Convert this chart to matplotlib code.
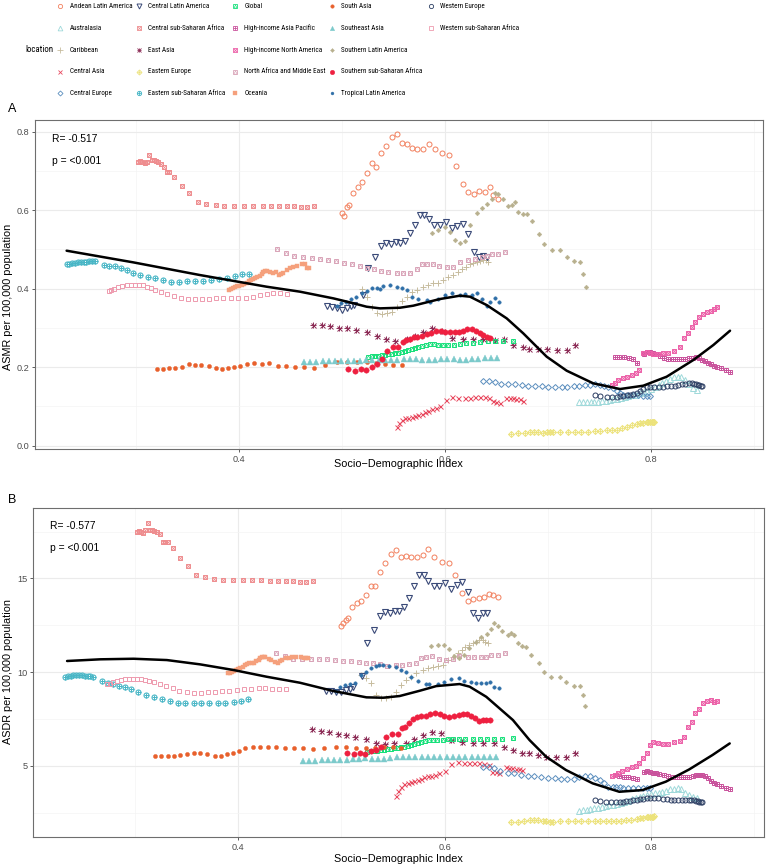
import os
import matplotlib
matplotlib.use("Agg")
import matplotlib.pyplot as plt
from matplotlib import font_manager
from matplotlib.font_manager import FontProperties

# ---------------- data (SDI, ASMR, ASDR per region) ----------------
locations = ["Andean Latin America", "Australasia", "Caribbean", "Central Asia", "Central Europe",
             "Central Latin America", "Central sub-Saharan Africa", "East Asia", "Eastern Europe",
             "Eastern sub-Saharan Africa", "Global", "High-income Asia Pacific", "High-income North America",
             "North Africa and Middle East", "Oceania", "South Asia", "Southeast Asia",
             "Southern Latin America", "Southern sub-Saharan Africa", "Tropical Latin America",
             "Western Europe", "Western sub-Saharan Africa"]

sdi_ala = [0.4994,0.5017,0.5043,0.5065,0.5101,0.515,0.5194,0.5237,0.5285,0.5327,0.5376,0.5424,0.548,0.5528,0.5577,0.5625,0.5674,0.5728,0.5787,0.5842,0.59,0.5971,0.6039,0.6104,0.6169,0.6224,0.6279,0.633,0.6385,0.6434,0.6466,0.6515]
asmr_ala = [0.5921,0.586,0.6074,0.6133,0.643,0.66,0.6727,0.694,0.7195,0.711,0.7466,0.7644,0.7857,0.7934,0.772,0.7687,0.7577,0.7559,0.7559,0.7687,0.7559,0.745,0.7406,0.7134,0.6668,0.6456,0.6405,0.6489,0.6472,0.66,0.6386,0.6285]
asdr_ala = [12.47,12.6,12.78,12.86,13.49,13.7,13.81,14.11,14.59,14.59,15.36,15.8,16.3,16.51,16.16,16.19,16.12,16.12,16.25,16.55,16.16,15.89,15.8,15.18,14.23,13.81,13.88,13.93,14.02,14.16,14.11,14.02]

sdi_aus = [0.7301,0.7338,0.7375,0.7411,0.7448,0.7485,0.7521,0.7558,0.7595,0.7631,0.7668,0.7705,0.7741,0.7778,0.7815,0.7851,0.7888,0.7925,0.7961,0.7998,0.8035,0.8071,0.8108,0.8145,0.8181,0.8218,0.8255,0.8291,0.8328,0.8365,0.8401,0.8439]
asmr_aus = [0.112,0.112,0.112,0.112,0.112,0.112,0.113,0.114,0.116,0.118,0.12,0.122,0.124,0.126,0.128,0.13,0.133,0.137,0.14,0.145,0.15,0.155,0.16,0.165,0.17,0.174,0.176,0.175,0.168,0.158,0.148,0.142]
asdr_aus = [2.6,2.62,2.64,2.68,2.72,2.76,2.8,2.84,2.88,2.93,2.98,3.03,3.08,3.13,3.2,3.28,3.35,3.4,3.45,3.5,3.52,3.55,3.6,3.66,3.74,3.78,3.79,3.74,3.55,3.45,3.35,3.26]

sdi_car = [0.5188,0.5237,0.5285,0.5334,0.5383,0.5431,0.548,0.5528,0.5577,0.5625,0.5674,0.5722,0.5787,0.5835,0.5884,0.5932,0.5981,0.6029,0.6078,0.6126,0.6165,0.62,0.624,0.6272,0.6305,0.6337,0.6369,0.6395,0.6417]
asmr_car = [0.3985,0.3797,0.3542,0.3373,0.3356,0.3373,0.3414,0.3542,0.3694,0.3797,0.3924,0.3967,0.4051,0.4094,0.4136,0.4153,0.4221,0.4306,0.4349,0.4433,0.45,0.456,0.462,0.465,0.468,0.47,0.473,0.472,0.467]
asdr_car = [9.84,9.67,9.4,8.77,8.6,8.6,8.69,8.95,9.31,9.55,9.75,9.97,10.11,10.2,10.29,10.32,10.38,10.64,10.79,11.0,11.18,11.35,11.44,11.55,11.62,11.7,11.7,11.62,11.53]

sdi_cas = [0.5528,0.5551,0.5577,0.5609,0.5641,0.5673,0.5706,0.5738,0.577,0.5803,0.5835,0.5867,0.5909,0.5948,0.6006,0.6061,0.6126,0.6191,0.624,0.6288,0.6337,0.6386,0.6427,0.6462,0.6495,0.6527,0.6592,0.6625,0.6657,0.669,0.6722,0.6754]
asmr_cas = [0.0484,0.0586,0.0654,0.0697,0.0718,0.0739,0.076,0.0782,0.0805,0.0866,0.0895,0.0926,0.0968,0.1011,0.1164,0.1232,0.1224,0.1224,0.1224,0.125,0.125,0.1232,0.1206,0.114,0.112,0.11,0.122,0.122,0.121,0.12,0.118,0.1146]
asdr_cas = [3.38,3.67,3.85,4.0,4.06,4.15,4.2,4.24,4.3,4.38,4.45,4.45,4.5,4.63,4.73,5.07,5.2,5.13,5.13,5.13,5.13,5.1,5.04,4.68,4.65,4.59,4.91,4.9,4.88,4.85,4.8,4.77]

sdi_ceu = [0.6369,0.6427,0.6482,0.6537,0.6612,0.6676,0.6741,0.6806,0.687,0.6935,0.7,0.7065,0.7129,0.7184,0.7249,0.7301,0.7356,0.7404,0.7453,0.7502,0.754,0.7583,0.7631,0.7663,0.7696,0.7728,0.7777,0.7825,0.7874,0.7922,0.7955,0.7987]
asmr_ceu = [0.1648,0.1656,0.1631,0.157,0.1563,0.1563,0.1546,0.1529,0.1529,0.1521,0.1503,0.1503,0.1503,0.1503,0.1521,0.1529,0.1546,0.1546,0.1563,0.1546,0.1521,0.1503,0.1461,0.1401,0.1333,0.13,0.129,0.128,0.128,0.127,0.126,0.126]
asdr_ceu = [4.95,4.91,4.86,4.73,4.63,4.59,4.5,4.45,4.45,4.41,4.36,4.33,4.29,4.29,4.29,4.41,4.45,4.45,4.36,4.24,4.06,3.88,3.84,3.84,3.84,3.82,3.8,3.79,3.79,3.79,3.79,3.79]

sdi_cla = [0.4848,0.4897,0.4946,0.4994,0.5043,0.5082,0.5115,0.5204,0.5245,0.5318,0.5373,0.5424,0.547,0.5518,0.556,0.5609,0.5657,0.5706,0.5754,0.5796,0.5842,0.5893,0.5949,0.6004,0.6062,0.6117,0.6169,0.6224,0.6279,0.6327,0.6369,0.6408]
asmr_cla = [0.3567,0.3541,0.3499,0.3456,0.3499,0.355,0.3584,0.3839,0.454,0.4816,0.5088,0.5172,0.5131,0.5182,0.5157,0.5223,0.5411,0.5623,0.5878,0.5878,0.5768,0.5623,0.5623,0.5691,0.5539,0.5597,0.5648,0.5394,0.4943,0.4815,0.484,0.4815]
asdr_cla = [9.0,8.98,8.95,8.95,9.04,9.1,9.22,9.79,11.53,12.24,12.99,13.22,13.17,13.28,13.25,13.46,13.94,14.59,15.18,15.18,14.88,14.59,14.59,14.77,14.42,14.65,14.82,14.29,13.14,12.87,13.14,13.14]

sdi_cssa = [0.302,0.304,0.306,0.308,0.31,0.3126,0.315,0.317,0.319,0.3214,0.324,0.327,0.3295,0.332,0.337,0.344,0.3515,0.3595,0.368,0.377,0.3854,0.3948,0.4045,0.4136,0.4227,0.4307,0.4388,0.4466,0.4534,0.4602,0.466,0.4725]
asmr_cssa = [0.724,0.725,0.722,0.72,0.724,0.741,0.728,0.727,0.726,0.722,0.718,0.711,0.698,0.698,0.685,0.662,0.643,0.622,0.617,0.612,0.611,0.611,0.61,0.611,0.611,0.611,0.611,0.611,0.611,0.609,0.609,0.611]
asdr_cssa = [17.5,17.55,17.45,17.4,17.6,17.97,17.6,17.6,17.55,17.5,17.35,16.96,16.96,16.96,16.64,16.1,15.66,15.18,15.09,14.98,14.93,14.91,14.89,14.89,14.89,14.88,14.88,14.88,14.88,14.82,14.8,14.88]

sdi_eas = [0.4712,0.48,0.488,0.4968,0.5049,0.5133,0.5236,0.5333,0.5424,0.5511,0.5625,0.5705,0.5786,0.5874,0.5965,0.6061,0.6168,0.6272,0.6369,0.6482,0.6573,0.666,0.6751,0.6816,0.69,0.6984,0.7081,0.7178,0.7259]
asmr_eas = [0.3074,0.3074,0.305,0.3006,0.299,0.295,0.2905,0.2794,0.271,0.266,0.271,0.28,0.2905,0.299,0.293,0.2735,0.271,0.271,0.271,0.2692,0.271,0.2565,0.2505,0.247,0.246,0.246,0.245,0.2437,0.2565]
asdr_eas = [6.94,6.87,6.78,6.67,6.62,6.51,6.41,6.23,6.14,6.2,6.2,6.4,6.62,6.78,6.73,6.37,6.28,6.23,6.19,6.19,6.01,5.84,5.69,5.66,5.55,5.48,5.44,5.44,5.69]

sdi_eeu = [0.6638,0.6709,0.6773,0.6822,0.6861,0.6903,0.6951,0.6984,0.7016,0.7049,0.7113,0.7194,0.7259,0.7317,0.7388,0.7453,0.7502,0.7566,0.7615,0.7663,0.7712,0.776,0.7809,0.7858,0.789,0.7922,0.7955,0.7971,0.7987,0.8003,0.8013,0.8026]
asmr_eeu = [0.0289,0.0314,0.0331,0.0357,0.0348,0.034,0.0331,0.034,0.0348,0.0348,0.0357,0.0357,0.0357,0.0357,0.0357,0.0374,0.0374,0.0391,0.0399,0.0399,0.0442,0.0484,0.0527,0.0552,0.0569,0.0586,0.0595,0.0603,0.0603,0.0611,0.0611,0.0611]
asdr_eeu = [1.98,2.01,2.05,2.1,2.12,2.08,2.04,2.03,2.02,2.02,2.03,2.03,2.05,2.05,2.05,2.05,2.05,2.05,2.05,2.05,2.06,2.08,2.12,2.17,2.2,2.22,2.24,2.24,2.25,2.26,2.28,2.3]

sdi_essa = [0.2324,0.2351,0.2379,0.2406,0.2434,0.2461,0.2489,0.2516,0.2544,0.2571,0.2599,0.2686,0.2738,0.2793,0.2848,0.2906,0.2964,0.3036,0.311,0.3184,0.3262,0.334,0.3417,0.3489,0.357,0.3644,0.3722,0.3803,0.3877,0.3961,0.4029,0.4097]
asmr_essa = [0.462,0.463,0.465,0.466,0.467,0.468,0.469,0.469,0.47,0.47,0.471,0.46,0.459,0.458,0.4535,0.4475,0.441,0.435,0.4306,0.426,0.422,0.418,0.418,0.419,0.42,0.42,0.422,0.4246,0.428,0.432,0.4365,0.4365]
asdr_essa = [9.75,9.78,9.8,9.82,9.82,9.83,9.83,9.8,9.78,9.78,9.75,9.5,9.4,9.34,9.27,9.2,9.07,8.93,8.8,8.68,8.56,8.45,8.36,8.33,8.33,8.33,8.33,8.33,8.33,8.38,8.47,8.56]

sdi_glo = [0.5253,0.5285,0.5317,0.535,0.5382,0.5414,0.5447,0.5479,0.5511,0.5544,0.5576,0.5608,0.5641,0.5673,0.5705,0.5738,0.577,0.581,0.585,0.589,0.593,0.598,0.603,0.608,0.614,0.62,0.627,0.634,0.641,0.648,0.656,0.666]
asmr_glo = [0.227,0.228,0.229,0.2295,0.2305,0.231,0.2325,0.234,0.235,0.236,0.238,0.2405,0.2435,0.247,0.2495,0.252,0.2545,0.257,0.258,0.258,0.2565,0.2555,0.2555,0.2575,0.2595,0.2615,0.2625,0.264,0.2655,0.266,0.267,0.2675]
asdr_glo = [5.75,5.77,5.79,5.8,5.82,5.84,5.87,5.9,5.93,5.95,5.98,6.01,6.06,6.12,6.18,6.22,6.28,6.32,6.36,6.37,6.38,6.38,6.4,6.42,6.44,6.45,6.45,6.45,6.44,6.44,6.45,6.46]

sdi_hiap = [0.7648,0.769,0.7735,0.778,0.7825,0.786,0.7929,0.796,0.799,0.802,0.805,0.808,0.812,0.8165,0.821,0.825,0.829,0.833,0.837,0.84,0.843,0.846,0.849,0.852,0.855,0.858,0.861,0.864,0.868,0.872,0.8764]
asmr_hiap = [0.2252,0.227,0.2252,0.2243,0.22,0.2115,0.233,0.238,0.2396,0.237,0.233,0.229,0.224,0.222,0.22,0.221,0.222,0.222,0.223,0.224,0.225,0.223,0.219,0.215,0.211,0.207,0.204,0.201,0.197,0.193,0.1886]
asdr_hiap = [4.5,4.45,4.42,4.38,4.33,4.31,4.68,4.7,4.68,4.62,4.6,4.55,4.5,4.45,4.42,4.4,4.38,4.38,4.4,4.45,4.5,4.52,4.5,4.45,4.35,4.2,4.1,4.0,3.9,3.8,3.74]

sdi_hina = [0.7616,0.7648,0.768,0.7722,0.7767,0.781,0.7851,0.7884,0.7916,0.7955,0.7987,0.802,0.8068,0.8117,0.8165,0.822,0.8279,0.8317,0.8359,0.8392,0.8424,0.8466,0.8499,0.8538,0.8577,0.8609,0.8635]
asmr_hina = [0.155,0.1605,0.1674,0.1717,0.1758,0.1801,0.1844,0.1929,0.2354,0.2396,0.237,0.2328,0.2328,0.2354,0.237,0.2421,0.2506,0.2736,0.2879,0.3032,0.3159,0.3271,0.3356,0.3414,0.3432,0.3475,0.3542]
asdr_hina = [4.45,4.5,4.63,4.73,4.81,4.91,5.0,5.13,5.4,5.69,6.1,6.25,6.23,6.16,6.14,6.25,6.34,6.52,7.05,7.35,7.8,8.01,8.33,8.47,8.51,8.4,8.45]

sdi_name = [0.4369,0.4453,0.4534,0.4615,0.4702,0.4783,0.4864,0.4939,0.5016,0.5091,0.5172,0.5236,0.5307,0.5372,0.5447,0.5528,0.5592,0.5657,0.5722,0.577,0.5819,0.5877,0.5942,0.6013,0.6078,0.6142,0.6223,0.6288,0.6353,0.6401,0.645,0.6515,0.658]
asmr_name = [0.5011,0.49,0.4832,0.4815,0.4781,0.4747,0.473,0.4705,0.4662,0.462,0.4577,0.4535,0.451,0.4459,0.4416,0.4391,0.4408,0.4408,0.4493,0.462,0.4628,0.4628,0.4577,0.456,0.456,0.4688,0.473,0.4747,0.4815,0.4832,0.4875,0.4883,0.4926]
asdr_name = [11.0,10.87,10.69,10.69,10.69,10.68,10.68,10.64,10.6,10.58,10.55,10.5,10.46,10.41,10.34,10.36,10.36,10.43,10.46,10.73,10.82,10.87,10.7,10.64,10.69,10.85,10.82,10.82,10.8,10.82,10.91,10.91,11.0]

sdi_oce = [0.3903,0.3922,0.3942,0.3962,0.3981,0.4002,0.4023,0.4047,0.4071,0.409,0.411,0.4131,0.4152,0.4176,0.4201,0.4217,0.4233,0.4249,0.4265,0.4298,0.4324,0.4356,0.4388,0.4407,0.4427,0.446,0.4492,0.4524,0.4563,0.4605,0.4638,0.466,0.468]
asmr_oce = [0.3966,0.4,0.4025,0.405,0.4068,0.408,0.4093,0.412,0.4153,0.419,0.4221,0.425,0.428,0.43,0.4323,0.438,0.4433,0.445,0.4459,0.4433,0.439,0.4433,0.4348,0.437,0.4408,0.4476,0.4518,0.456,0.4577,0.462,0.4628,0.4535,0.4535]
asdr_oce = [9.93,9.97,10.02,10.06,10.1,10.15,10.2,10.28,10.37,10.44,10.5,10.5,10.5,10.57,10.64,10.73,10.82,10.8,10.78,10.7,10.64,10.55,10.5,10.57,10.64,10.73,10.73,10.78,10.82,10.82,10.76,10.73,10.73]

sdi_sas = [0.3197,0.3256,0.332,0.3379,0.344,0.3508,0.357,0.3631,0.3702,0.3773,0.3835,0.3893,0.3951,0.4006,0.4071,0.4142,0.4217,0.4291,0.4372,0.4453,0.4544,0.4631,0.4728,0.4832,0.4945,0.5042,0.514,0.5236,0.533,0.5415,0.5496,0.5577]
asmr_sas = [0.1945,0.1962,0.1979,0.1987,0.2013,0.2072,0.2064,0.2055,0.2038,0.197,0.1945,0.197,0.2013,0.2038,0.2081,0.2115,0.2081,0.2098,0.2038,0.203,0.2013,0.1996,0.1987,0.2055,0.2123,0.214,0.214,0.2132,0.2098,0.2072,0.2055,0.2055]
asdr_sas = [5.52,5.5,5.5,5.52,5.55,5.62,5.66,5.66,5.62,5.53,5.52,5.6,5.66,5.8,5.93,5.98,6.01,5.99,5.98,5.96,5.96,5.93,5.89,5.96,6.01,6.01,5.96,5.93,5.95,6.01,6.01,5.96]

sdi_sea = [0.4628,0.4688,0.4749,0.4809,0.487,0.493,0.4991,0.5051,0.5112,0.5172,0.5233,0.5293,0.5354,0.5414,0.5475,0.5535,0.5596,0.5656,0.5717,0.5777,0.5838,0.5898,0.5959,0.6019,0.608,0.614,0.6201,0.6261,0.6322,0.6382,0.6443,0.65]
asmr_sea = [0.2123,0.2123,0.214,0.215,0.2155,0.215,0.2155,0.2155,0.217,0.217,0.218,0.2175,0.218,0.219,0.2183,0.2183,0.22,0.2205,0.22,0.2195,0.219,0.2195,0.22,0.22,0.22,0.2195,0.2195,0.22,0.221,0.2225,0.224,0.223]
asdr_sea = [5.27,5.27,5.27,5.3,5.3,5.3,5.3,5.3,5.34,5.37,5.39,5.38,5.37,5.38,5.4,5.44,5.46,5.48,5.48,5.48,5.46,5.44,5.44,5.45,5.45,5.46,5.44,5.44,5.45,5.48,5.46,5.46]

sdi_sla = [0.5867,0.5932,0.5997,0.6045,0.6094,0.6142,0.6191,0.624,0.6304,0.6353,0.6408,0.645,0.6482,0.6515,0.6557,0.6612,0.6644,0.6676,0.6709,0.6751,0.679,0.6838,0.6913,0.6958,0.7032,0.7113,0.7178,0.7249,0.7307,0.734,0.7362]
asmr_sla = [0.541,0.5495,0.5563,0.5452,0.524,0.5172,0.5223,0.5622,0.5919,0.6047,0.6157,0.6276,0.6429,0.6412,0.6276,0.6106,0.6132,0.62,0.5953,0.5902,0.5902,0.5732,0.5384,0.5138,0.4985,0.4985,0.4815,0.4713,0.4671,0.4374,0.4034]
asdr_sla = [11.39,11.44,11.45,11.21,10.85,10.73,10.9,11.3,11.62,11.89,12.03,12.3,12.6,12.46,12.2,11.98,12.1,12.0,11.53,11.41,11.35,10.9,10.46,9.98,9.75,9.75,9.45,9.27,9.25,8.77,8.2]

sdi_sssa = [0.5058,0.5123,0.5178,0.523,0.5285,0.5334,0.5383,0.5437,0.5495,0.5544,0.5586,0.5618,0.5657,0.5696,0.5728,0.5771,0.5819,0.5858,0.591,0.5958,0.5997,0.6046,0.6094,0.6136,0.6175,0.6214,0.6256,0.6298,0.6337,0.6369,0.6402,0.6437]
asmr_sssa = [0.1946,0.1911,0.196,0.1929,0.2013,0.2081,0.2201,0.2413,0.2506,0.2506,0.265,0.2693,0.2727,0.2761,0.2778,0.2795,0.2838,0.2879,0.2922,0.293,0.2905,0.2888,0.2888,0.2905,0.293,0.2973,0.2973,0.2922,0.2863,0.282,0.2761,0.275]
asdr_sssa = [5.66,5.61,5.7,5.61,5.78,5.84,6.01,6.52,6.68,6.68,7.0,7.08,7.26,7.48,7.62,7.65,7.65,7.74,7.8,7.76,7.65,7.62,7.65,7.71,7.76,7.76,7.65,7.53,7.39,7.44,7.44,7.44]

sdi_tla = [0.4946,0.4989,0.5037,0.5085,0.5134,0.5188,0.5237,0.5285,0.5334,0.5366,0.5399,0.5463,0.5528,0.5576,0.5625,0.5674,0.5738,0.5819,0.5851,0.5932,0.5997,0.6062,0.6142,0.6191,0.6256,0.6304,0.6353,0.6401,0.6437,0.6482,0.6524]
asmr_tla = [0.357,0.3628,0.367,0.373,0.38,0.388,0.394,0.401,0.403,0.3983,0.407,0.4093,0.404,0.4008,0.3966,0.3797,0.373,0.371,0.3669,0.375,0.384,0.39,0.3839,0.386,0.385,0.388,0.375,0.3558,0.365,0.3754,0.3669]
asdr_tla = [9.0,9.2,9.3,9.35,9.4,9.84,10.0,10.2,10.32,10.38,10.38,10.32,10.25,10.11,10.0,9.75,9.5,9.36,9.36,9.36,9.48,9.61,9.7,9.5,9.45,9.43,9.43,9.43,9.45,9.22,9.13]

sdi_weu = [0.7453,0.7502,0.7566,0.7615,0.7663,0.7696,0.7728,0.776,0.7793,0.7825,0.7858,0.789,0.7922,0.7955,0.7987,0.803,0.807,0.811,0.815,0.819,0.8225,0.826,0.8295,0.833,0.8362,0.839,0.8412,0.8432,0.845,0.8466,0.848,0.8492]
asmr_weu = [0.129,0.1265,0.1248,0.1248,0.1248,0.1265,0.1273,0.1282,0.129,0.1316,0.135,0.1392,0.1435,0.1486,0.1503,0.1503,0.1503,0.1503,0.1512,0.1521,0.1529,0.1546,0.1563,0.158,0.16,0.1605,0.158,0.1563,0.1546,0.1537,0.1529,0.1521]
asdr_weu = [3.17,3.12,3.08,3.08,3.08,3.08,3.08,3.1,3.12,3.15,3.17,3.2,3.24,3.26,3.28,3.28,3.26,3.24,3.2,3.17,3.15,3.15,3.15,3.17,3.19,3.17,3.15,3.12,3.1,3.09,3.08,3.08]

sdi_wssa = [0.2735,0.2757,0.2786,0.2825,0.2864,0.2906,0.2945,0.2984,0.3023,0.3061,0.31,0.3139,0.3184,0.3243,0.3301,0.3366,0.343,0.3502,0.357,0.3638,0.3706,0.3773,0.3845,0.3916,0.399,0.4061,0.4129,0.4201,0.4265,0.433,0.4395,0.446]
asmr_wssa = [0.3949,0.3966,0.4,0.4034,0.4068,0.4085,0.4093,0.4093,0.4093,0.4085,0.4051,0.4017,0.3975,0.3915,0.3864,0.3813,0.3771,0.3745,0.3728,0.3728,0.3737,0.3754,0.3762,0.3762,0.3762,0.3771,0.3796,0.3839,0.3864,0.3881,0.3881,0.3864]
asdr_wssa = [9.34,9.38,9.45,9.52,9.57,9.61,9.63,9.63,9.63,9.61,9.57,9.52,9.47,9.38,9.27,9.15,9.0,8.91,8.86,8.88,8.93,8.95,8.97,9.0,9.04,9.07,9.11,9.13,9.13,9.11,9.09,9.09]

# smoothed (loess) trend
smooth_sdi_a = [0.2324,0.2971,0.3618,0.4265,0.4589,0.4913,0.5074,0.5236,0.5366,0.556,0.5689,0.5948,0.6142,0.624,0.6401,0.6596,0.6757,0.6984,0.7178,0.7437,0.7696,0.7922,0.8149,0.8408,0.8602,0.8764]
smooth_asmr = [0.4968,0.4671,0.4348,0.4051,0.3924,0.3754,0.3652,0.3541,0.3499,0.3515,0.3567,0.3737,0.3822,0.3796,0.3584,0.3244,0.2862,0.2268,0.1911,0.1588,0.1444,0.1529,0.1758,0.2183,0.2565,0.293]
smooth_sdi_b = [0.2345,0.2667,0.2989,0.3311,0.3633,0.3955,0.4277,0.4599,0.4921,0.5243,0.5404,0.5565,0.5758,0.5919,0.6145,0.6242,0.6403,0.6661,0.6822,0.6983,0.7175,0.7433,0.7691,0.7916,0.8142,0.8367,0.8593,0.876]
smooth_asdr = [10.59,10.68,10.71,10.64,10.41,10.11,9.75,9.43,8.99,8.65,8.63,8.72,9.0,9.25,9.36,9.22,8.68,7.44,6.37,5.48,4.77,4.06,3.61,3.7,4.15,4.8,5.57,6.19]

stat_labels_a = ["R= -0.517", "p = <0.001"]
stat_labels_b = ["R= -0.577", "p = <0.001"]

series = {
    "Andean Latin America": (sdi_ala, asmr_ala, asdr_ala),
    "Australasia": (sdi_aus, asmr_aus, asdr_aus),
    "Caribbean": (sdi_car, asmr_car, asdr_car),
    "Central Asia": (sdi_cas, asmr_cas, asdr_cas),
    "Central Europe": (sdi_ceu, asmr_ceu, asdr_ceu),
    "Central Latin America": (sdi_cla, asmr_cla, asdr_cla),
    "Central sub-Saharan Africa": (sdi_cssa, asmr_cssa, asdr_cssa),
    "East Asia": (sdi_eas, asmr_eas, asdr_eas),
    "Eastern Europe": (sdi_eeu, asmr_eeu, asdr_eeu),
    "Eastern sub-Saharan Africa": (sdi_essa, asmr_essa, asdr_essa),
    "Global": (sdi_glo, asmr_glo, asdr_glo),
    "High-income Asia Pacific": (sdi_hiap, asmr_hiap, asdr_hiap),
    "High-income North America": (sdi_hina, asmr_hina, asdr_hina),
    "North Africa and Middle East": (sdi_name, asmr_name, asdr_name),
    "Oceania": (sdi_oce, asmr_oce, asdr_oce),
    "South Asia": (sdi_sas, asmr_sas, asdr_sas),
    "Southeast Asia": (sdi_sea, asmr_sea, asdr_sea),
    "Southern Latin America": (sdi_sla, asmr_sla, asdr_sla),
    "Southern sub-Saharan Africa": (sdi_sssa, asmr_sssa, asdr_sssa),
    "Tropical Latin America": (sdi_tla, asmr_tla, asdr_tla),
    "Western Europe": (sdi_weu, asmr_weu, asdr_weu),
    "Western sub-Saharan Africa": (sdi_wssa, asmr_wssa, asdr_wssa),
}

# ---------------- styles ----------------
colors = {
    "Andean Latin America": "#F2805E", "Australasia": "#9FD9DA", "Caribbean": "#C7BC9E",
    "Central Asia": "#E8485E", "Central Europe": "#5A8EBE", "Central Latin America": "#3A4A78",
    "Central sub-Saharan Africa": "#EE8C8E", "East Asia": "#8C2C56", "Eastern Europe": "#ECE27A",
    "Eastern sub-Saharan Africa": "#48B6C6", "Global": "#16E07A", "High-income Asia Pacific": "#C9519B",
    "High-income North America": "#EC60A8", "North Africa and Middle East": "#D9A4B8",
    "Oceania": "#F5A07C", "South Asia": "#E8602C", "Southeast Asia": "#7CCACB",
    "Southern Latin America": "#B8B08E", "Southern sub-Saharan Africa": "#EE2040",
    "Tropical Latin America": "#2F6FA8", "Western Europe": "#2C3E63", "Western sub-Saharan Africa": "#EE9AAE",
}
# (marker, filled, size_pt, edge_width)
shapes = {
    "Andean Latin America": [("o", False, 3.6, 0.7)],
    "Australasia": [("^", False, 4.0, 0.7)],
    "Caribbean": [("+", False, 4.4, 0.7)],
    "Central Asia": [("x", False, 3.6, 0.7)],
    "Central Europe": [("D", False, 3.0, 0.7)],
    "Central Latin America": [("v", False, 4.2, 0.8)],
    "Central sub-Saharan Africa": [("s", False, 3.4, 0.7), ("x", False, 3.4, 0.6)],
    "East Asia": [("+", False, 4.2, 0.7), ("x", False, 3.6, 0.7)],
    "Eastern Europe": [("D", False, 3.0, 0.7), ("+", False, 4.0, 0.6)],
    "Eastern sub-Saharan Africa": [("o", False, 3.6, 0.8), ("+", False, 3.6, 0.7)],
    "Global": [("s", False, 3.4, 0.7), ("^", False, 2.6, 0.5)],
    "High-income Asia Pacific": [("s", False, 3.4, 0.7), ("+", False, 3.4, 0.7)],
    "High-income North America": [("s", False, 3.4, 0.7), ("x", False, 3.4, 0.7)],
    "North Africa and Middle East": [("s", False, 3.4, 0.7), ("^", False, 2.8, 0.5)],
    "Oceania": [("s", True, 3.2, 0.3)],
    "South Asia": [("o", True, 3.0, 0.3)],
    "Southeast Asia": [("^", True, 3.8, 0.3)],
    "Southern Latin America": [("D", True, 2.4, 0.3)],
    "Southern sub-Saharan Africa": [("o", True, 3.9, 0.3)],
    "Tropical Latin America": [("o", True, 2.5, 0.3)],
    "Western Europe": [("o", False, 3.6, 0.7)],
    "Western sub-Saharan Africa": [("s", False, 3.4, 0.7)],
}


def draw_points(ax, x, y, name, scale=1.0, z=3):
    col = colors[name]
    for m, filled, ms, mew in shapes[name]:
        ax.plot(x, y, linestyle="none", marker=m, markersize=ms * scale,
                markerfacecolor=col if filled else "none", markeredgecolor=col,
                markeredgewidth=mew * scale, color=col, zorder=z)


def has_font(name):
    try:
        font_manager.findfont(name, fallback_to_default=False)
        return True
    except Exception:
        return False


BASE = "Liberation Sans" if has_font("Liberation Sans") else "DejaVu Sans"
plt.rcParams["font.family"] = [BASE, "DejaVu Sans"]

# a condensed face for the (horizontally squeezed) legend, if one is installed
leg_fp = None
for fam in ["Roboto Condensed", "Liberation Sans Narrow", "Open Sans Condensed",
            "Noto Sans Condensed", "DejaVu Sans Condensed", "Arial Narrow"]:
    if has_font(fam):
        leg_fp = FontProperties(family=fam)
        break
if leg_fp is None:
    for fam in ["Noto Sans", "Open Sans", "Roboto", "DejaVu Sans", "Liberation Sans"]:
        fp = FontProperties(family=fam, stretch="condensed")
        try:
            p = font_manager.findfont(fp, fallback_to_default=False)
        except Exception:
            continue
        b = os.path.basename(p)
        if "ondensed" in b or "arrow" in b or "Cond" in b:
            leg_fp = fp
            break
if leg_fp is None:
    leg_fp = FontProperties(family=BASE)

W, H = 767, 868
fig = plt.figure(figsize=(W / 100, H / 100), dpi=100)
fig.patch.set_facecolor("white")


def rect(l, t, r, b):
    return [l / W, 1 - b / H, (r - l) / W, (b - t) / H]


axA = fig.add_axes(rect(35, 120, 763, 449))
axB = fig.add_axes(rect(33.3, 508.3, 764, 837.3))


def style_axes(ax, xlim, ylim, yticks, yminor, yfmt):
    ax.set_xlim(*xlim)
    ax.set_ylim(*ylim)
    ax.set_xticks([0.4, 0.6, 0.8])
    ax.set_xticklabels(["0.4", "0.6", "0.8"])
    ax.set_xticks([0.3, 0.5, 0.7, 0.9], minor=True)
    ax.set_yticks(yticks)
    ax.set_yticklabels([yfmt.format(v) for v in yticks])
    ax.set_yticks(yminor, minor=True)
    ax.grid(True, which="major", color="#EBEBEB", linewidth=0.8, zorder=0)
    ax.grid(True, which="minor", color="#F4F4F4", linewidth=0.5, zorder=0)
    ax.set_axisbelow(True)
    for s in ax.spines.values():
        s.set_color("#6E6E6E")
        s.set_linewidth(0.8)
    ax.tick_params(which="major", length=2.5, width=0.6, color="#444444",
                   labelsize=6.6, labelcolor="#4D4D4D", pad=1.5)
    ax.tick_params(which="minor", length=0)


style_axes(axA, (0.2017, 0.9084), (-0.0084, 0.8298), [0.0, 0.2, 0.4, 0.6, 0.8],
           [0.1, 0.3, 0.5, 0.7], "{:.1f}")
style_axes(axB, (0.2018, 0.9092), (1.18, 18.74), [5, 10, 15], [2.5, 7.5, 12.5, 17.5], "{:g}")

for name in locations:
    x, a, b = series[name]
    draw_points(axA, x, a, name)
    draw_points(axB, x, b, name)

axA.plot(smooth_sdi_a, smooth_asmr, color="black", linewidth=1.8, zorder=5,
         solid_joinstyle="round", solid_capstyle="round")
axB.plot(smooth_sdi_b, smooth_asdr, color="black", linewidth=1.8, zorder=5,
         solid_joinstyle="round", solid_capstyle="round")

axA.text(0.0234, 0.942, stat_labels_a[0], transform=axA.transAxes, fontsize=7.4, va="center", ha="left")
axA.text(0.0234, 0.874, stat_labels_a[1], transform=axA.transAxes, fontsize=7.4, va="center", ha="left")
axB.text(0.0228, 0.946, stat_labels_b[0], transform=axB.transAxes, fontsize=7.4, va="center", ha="left")
axB.text(0.0228, 0.878, stat_labels_b[1], transform=axB.transAxes, fontsize=7.4, va="center", ha="left")

# panel tags and axis titles
fig.text(12.5 / W, 1 - 109 / H, "A", fontsize=9, ha="center", va="center")
fig.text(12.5 / W, 1 - 500 / H, "B", fontsize=9, ha="center", va="center")
fig.text(398 / W, 1 - 464 / H, "Socio\u2212Demographic Index", fontsize=7.8, ha="center", va="center")
fig.text(398 / W, 1 - 859 / H, "Socio\u2212Demographic Index", fontsize=7.8, ha="center", va="center")
fig.text(8.5 / W, 1 - 297 / H, "ASMR per 100,000 population", fontsize=7.8, rotation=90,
         ha="center", va="center")
fig.text(8.5 / W, 1 - 672 / H, "ASDR per 100,000 population", fontsize=7.8, rotation=90,
         ha="center", va="center")

# ---------------- legend ----------------
legax = fig.add_axes([0, 1 - 104 / H, 1, 104 / H])
legax.set_xlim(0, W)
legax.set_ylim(104, 0)
legax.axis("off")
col_marker_x = [60, 139, 235, 332, 430.5]
col_text_x = [69.5, 148.5, 244.5, 341, 440]
row_y = [6.3, 28.3, 50, 71.7, 93.3]

# fit the legend font size to the measured label widths (78 px for the longest one)
renderer = fig.canvas.get_renderer()
probe = fig.text(0, 0, "Western sub-Saharan Africa", fontproperties=leg_fp, fontsize=10)
w10 = probe.get_window_extent(renderer).width
probe.remove()
leg_size = 10 * 78.0 / w10
title_size = leg_size * 1.25

for i, name in enumerate(locations):
    c, r = divmod(i, 5)
    draw_points(legax, [col_marker_x[c]], [row_y[r]], name, scale=0.85)
    fp = leg_fp.copy()
    fp.set_size(leg_size)
    legax.text(col_text_x[c], row_y[r], name, fontproperties=fp, ha="left", va="center")
fpt = leg_fp.copy()
fpt.set_size(title_size)
legax.text(25, 50, "location", fontproperties=fpt, ha="left", va="center")

fig.savefig("out.png", dpi=100, facecolor="white")
